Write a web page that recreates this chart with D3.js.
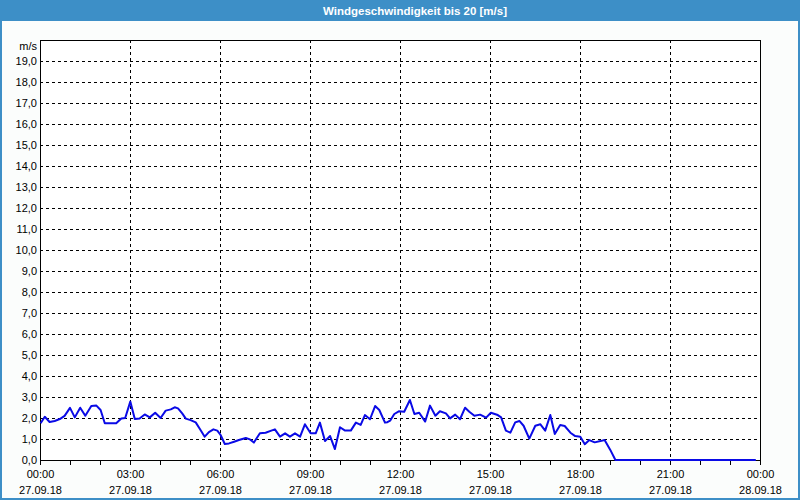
<!DOCTYPE html>
<html><head><meta charset="utf-8">
<script src="https://cdn.jsdelivr.net/npm/d3@7"></script>
<style>
html,body{margin:0;padding:0;background:#fff;}
svg{display:block;}
text{font-family:"Liberation Sans",Arial,sans-serif;}
</style></head>
<body>
<svg id="c" width="800" height="500"></svg>
<script>
const title = "Windgeschwindigkeit bis 20 [m/s]";
const unitLabel = "m/s";
// hours since 27.09.18 00:00
const hours = [0.02,0.16,0.32,0.49,0.66,0.82,1.00,1.16,1.34,1.51,1.71,1.88,2.02,2.16,2.54,2.71,2.84,3.01,3.16,3.32,3.49,3.66,3.84,
4.02,4.19,4.36,4.49,4.60,4.74,4.86,5.02,5.19,5.33,5.49,5.63,5.78,5.91,6.02,6.16,6.30,6.47,6.63,6.86,7.00,7.13,7.33,7.52,7.71,7.83,
8.00,8.17,8.33,8.50,8.67,8.83,9.02,9.19,9.33,9.50,9.67,9.83,10.00,10.17,10.36,10.53,10.69,10.83,11.00,11.17,11.31,11.50,11.58,11.67,11.81,11.96,
12.14,12.33,12.48,12.64,12.84,13.00,13.18,13.33,13.53,13.67,13.84,14.00,14.17,14.31,14.48,14.67,14.87,15.03,15.26,15.37,15.53,15.68,15.84,15.98,
16.12,16.31,16.51,16.68,16.84,17.01,17.16,17.34,17.49,17.68,17.84,18.01,18.16,18.31,18.49,18.68,18.82,19.01,19.18,23.86];
const speed = [1.75,2.06,1.81,1.86,1.95,2.10,2.48,2.03,2.49,2.11,2.57,2.59,2.38,1.75,1.75,1.98,2.00,2.78,1.95,1.98,2.17,2.03,2.25,
2.00,2.35,2.41,2.51,2.46,2.22,1.97,1.90,1.79,1.48,1.11,1.33,1.46,1.40,1.19,0.76,0.79,0.87,0.95,1.05,0.98,0.83,1.27,1.30,1.40,1.46,
1.11,1.27,1.11,1.27,1.11,1.70,1.27,1.27,1.78,0.90,1.14,0.52,1.56,1.40,1.40,1.78,1.67,2.14,1.94,2.57,2.38,1.78,1.80,1.87,2.19,2.32,
2.30,2.86,2.19,2.25,1.83,2.59,2.11,2.32,2.22,1.98,2.16,1.94,2.49,2.30,2.11,2.16,2.02,2.25,2.14,2.03,1.40,1.30,1.79,1.86,
1.63,1.02,1.63,1.70,1.40,2.14,1.24,1.67,1.62,1.30,1.14,1.11,0.75,0.95,0.84,0.90,0.95,0.48,0.00,0.00];
const yTicks = [0,1,2,3,4,5,6,7,8,9,10,11,12,13,14,15,16,17,18,19];
const xLabelHours = [0,3,6,9,12,15,18,21,24];
const xTimeLabels = ["00:00","03:00","06:00","09:00","12:00","15:00","18:00","21:00","00:00"];
const xDateLabels = ["27.09.18","27.09.18","27.09.18","27.09.18","27.09.18","27.09.18","27.09.18","27.09.18","28.09.18"];
const minorHours = d3.range(0,25);

const svg = d3.select("#c");
const L=40,R=760,T=40,B=460;
const x = d3.scaleLinear().domain([0,24]).range([L,R]);
const y = d3.scaleLinear().domain([0,20]).range([B,T]);

// window background and frame
svg.append("rect").attr("x",0).attr("y",0).attr("width",800).attr("height",500).attr("fill","#3d8fc7");
svg.append("rect").attr("x",2).attr("y",21).attr("width",796).attr("height",477).attr("fill","#fbfdfc");
svg.append("text").attr("x",415).attr("y",15).attr("text-anchor","middle")
  .attr("fill","#fff").attr("font-size",11.5).attr("font-weight","bold").text(title);

// plot background
svg.append("rect").attr("x",L).attr("y",T).attr("width",R-L).attr("height",B-T).attr("fill","#fff");

// horizontal gridlines
svg.append("g").selectAll("line").data(yTicks.filter(d=>d>0)).join("line")
  .attr("x1",L).attr("x2",R).attr("y1",d=>Math.round(y(d))+0.5).attr("y2",d=>Math.round(y(d))+0.5)
  .attr("stroke","#000").attr("stroke-dasharray","3,3").attr("shape-rendering","crispEdges");
// vertical gridlines
svg.append("g").selectAll("line").data(xLabelHours.filter(d=>d>0&&d<24)).join("line")
  .attr("y1",T).attr("y2",B).attr("x1",d=>Math.round(x(d))+0.5).attr("x2",d=>Math.round(x(d))+0.5)
  .attr("stroke","#000").attr("stroke-dasharray","3,3").attr("shape-rendering","crispEdges");

// y axis labels
const yAxis = d3.axisLeft(y).tickValues(yTicks).tickSize(0).tickPadding(3)
  .tickFormat(d=>d3.format(".1f")(d).replace(".",","));
const gy = svg.append("g").attr("transform",`translate(${L},0)`).call(yAxis);
gy.select(".domain").remove();
gy.selectAll("text").attr("font-family","Liberation Sans, Arial, sans-serif").attr("font-size",11).attr("fill","#000");
svg.append("text").attr("x",37).attr("y",50).attr("text-anchor","end").attr("font-size",11).attr("fill","#000").text(unitLabel);

// x axis minor ticks
const xMinor = d3.axisBottom(x).tickValues(minorHours).tickSize(4).tickFormat("");
const gxm = svg.append("g").attr("transform",`translate(0,${B+0.5})`).call(xMinor);
gxm.select(".domain").remove();
gxm.selectAll("line").attr("stroke","#000").attr("shape-rendering","crispEdges");

// x axis labels
const xAxis = d3.axisBottom(x).tickValues(xLabelHours).tickSize(0).tickPadding(10)
  .tickFormat((d,i)=>xTimeLabels[i]);
const gx = svg.append("g").attr("transform",`translate(0,${B})`).call(xAxis);
gx.select(".domain").remove();
gx.selectAll("text").attr("font-family","Liberation Sans, Arial, sans-serif").attr("font-size",11).attr("fill","#000");
const xAxis2 = d3.axisBottom(x).tickValues(xLabelHours).tickSize(0).tickPadding(26)
  .tickFormat((d,i)=>xDateLabels[i]);
const gx2 = svg.append("g").attr("transform",`translate(0,${B})`).call(xAxis2);
gx2.select(".domain").remove();
gx2.selectAll("text").attr("font-family","Liberation Sans, Arial, sans-serif").attr("font-size",11).attr("fill","#000");

// plot border
svg.append("rect").attr("x",L+0.5).attr("y",T+0.5).attr("width",R-L).attr("height",B-T)
  .attr("fill","none").attr("stroke","#000").attr("shape-rendering","crispEdges");

// data line
const data = hours.map((h,i)=>({h,v:speed[i]}));
svg.append("path").datum(data)
  .attr("d",d3.line().x(d=>x(d.h)).y(d=>y(d.v)))
  .attr("fill","none").attr("stroke","#0a0ae6").attr("stroke-width",2).attr("stroke-linejoin","round");
</script>
</body></html>
